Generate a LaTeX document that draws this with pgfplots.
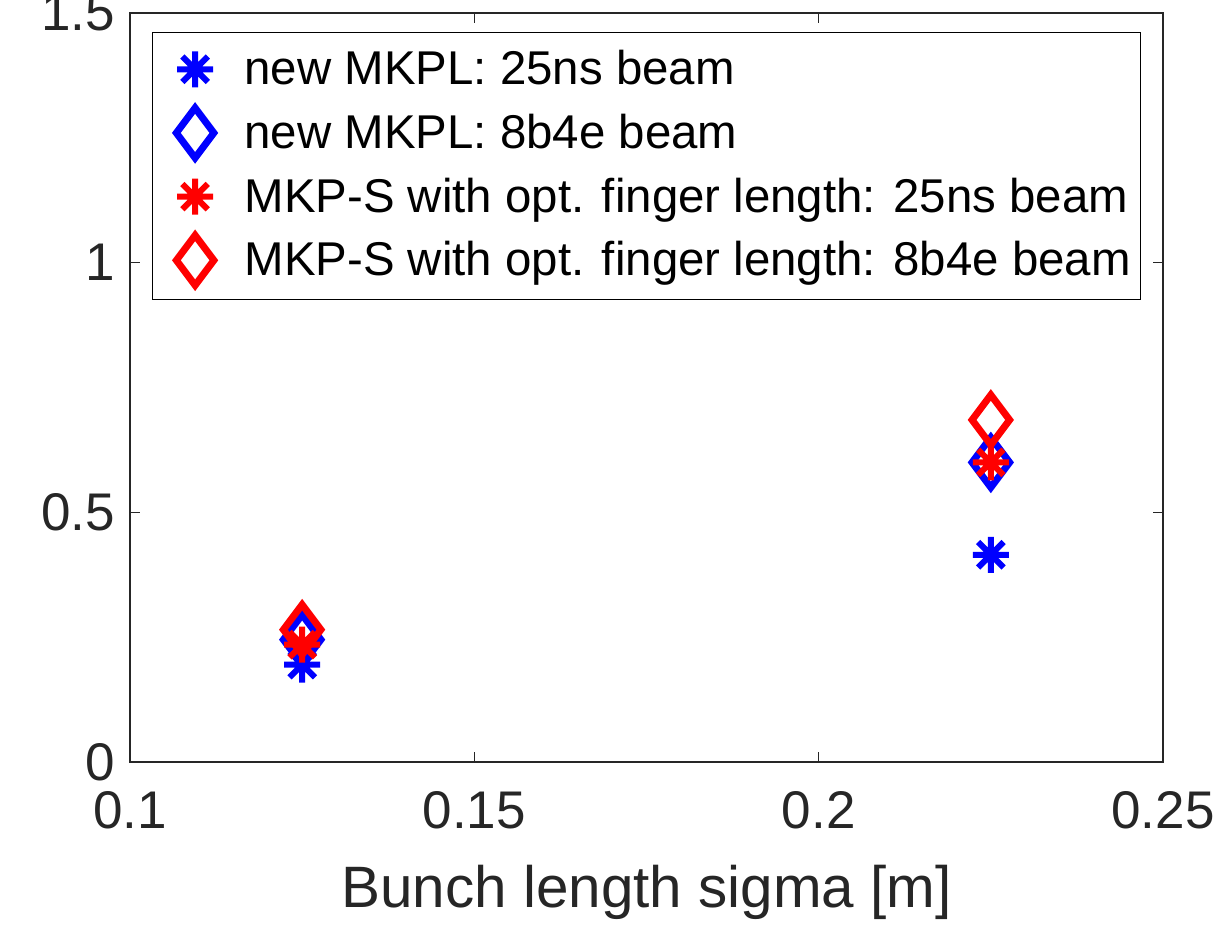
\documentclass[border=0pt]{standalone}
\usepackage{pgfplots}
\pgfplotsset{compat=1.18}
\usepackage{fontspec}
\setmainfont{Liberation Sans}
\definecolor{axgray}{RGB}{38,38,38}
\pgfdeclareplotmark{star8}{%
  \pgfpathmoveto{\pgfqpoint{0pt}{\pgfplotmarksize}}%
  \pgfpathlineto{\pgfqpoint{0pt}{-\pgfplotmarksize}}%
  \pgfpathmoveto{\pgfqpoint{\pgfplotmarksize}{0pt}}%
  \pgfpathlineto{\pgfqpoint{-\pgfplotmarksize}{0pt}}%
  \pgfpathmoveto{\pgfqpoint{.7071\pgfplotmarksize}{.7071\pgfplotmarksize}}%
  \pgfpathlineto{\pgfqpoint{-.7071\pgfplotmarksize}{-.7071\pgfplotmarksize}}%
  \pgfpathmoveto{\pgfqpoint{-.7071\pgfplotmarksize}{.7071\pgfplotmarksize}}%
  \pgfpathlineto{\pgfqpoint{.7071\pgfplotmarksize}{-.7071\pgfplotmarksize}}%
  \pgfusepathqstroke}
\begin{document}
\begin{tikzpicture}
\begin{axis}[
  scale only axis,
  width=516.5pt, height=374.5pt,
  xmin=0.1, xmax=0.25, ymin=0, ymax=1.5,
  xtick={0.1,0.15,0.2,0.25}, xticklabels={0.1,0.15,0.2,0.25},
  ytick={0,0.5,1,1.5}, yticklabels={0,0.5,1,1.5},
  tick align=inside, major tick length=5pt,
  axis line style={draw=axgray, line width=0.6pt},
  every tick/.style={draw=axgray, line width=0.6pt},
  tick label style={font=\fontsize{26.5}{30}\selectfont, text=axgray},
  xticklabel style={yshift=-11pt},
  yticklabel style={xshift=-4pt},
  xlabel={Bunch length sigma [m]},
  xlabel style={font=\fontsize{29.2}{34}\selectfont, text=axgray, yshift=-11.5pt},
  legend cell align=left,
  legend style={at={(0,1)}, anchor=north west, xshift=11pt, yshift=-9.5pt,
    draw=black, line width=0.6pt, font=\fontsize{23.7}{28}\selectfont,
    inner xsep=3pt, inner ysep=7pt, row sep=8pt,
    nodes={inner sep=2pt}},
  legend image code/.code={\path (-16.5pt,0pt) (21pt,0pt); \draw[mark repeat=2,mark phase=2,#1] plot coordinates {(-1pt,0pt)(0pt,0pt)(1pt,0pt)};},
]
\addplot[only marks, mark=star8, mark size=9pt, draw=blue, line width=3pt] coordinates {(0.125,0.195) (0.225,0.415)};
\addlegendentry{new MKPL: 25ns beam}
\addplot[only marks, mark=diamond, mark size=12.5pt, draw=blue, line width=3.5pt] coordinates {(0.125,0.245) (0.225,0.600)};
\addlegendentry{new MKPL: 8b4e beam}
\addplot[only marks, mark=star8, mark size=9pt, draw=red, line width=3pt] coordinates {(0.125,0.235) (0.225,0.600)};
\addlegendentry{MKP-S with opt. finger length: 25ns beam}
\addplot[only marks, mark=diamond, mark size=12.5pt, draw=red, line width=3.5pt] coordinates {(0.125,0.265) (0.225,0.685)};
\addlegendentry{MKP-S with opt. finger length: 8b4e beam}
\end{axis}
\pgfresetboundingbox
\useasboundingbox (current axis.south west) ++(-65pt,-81.5pt) rectangle ++(607.5pt,462.5pt);
\end{tikzpicture}
\end{document}
